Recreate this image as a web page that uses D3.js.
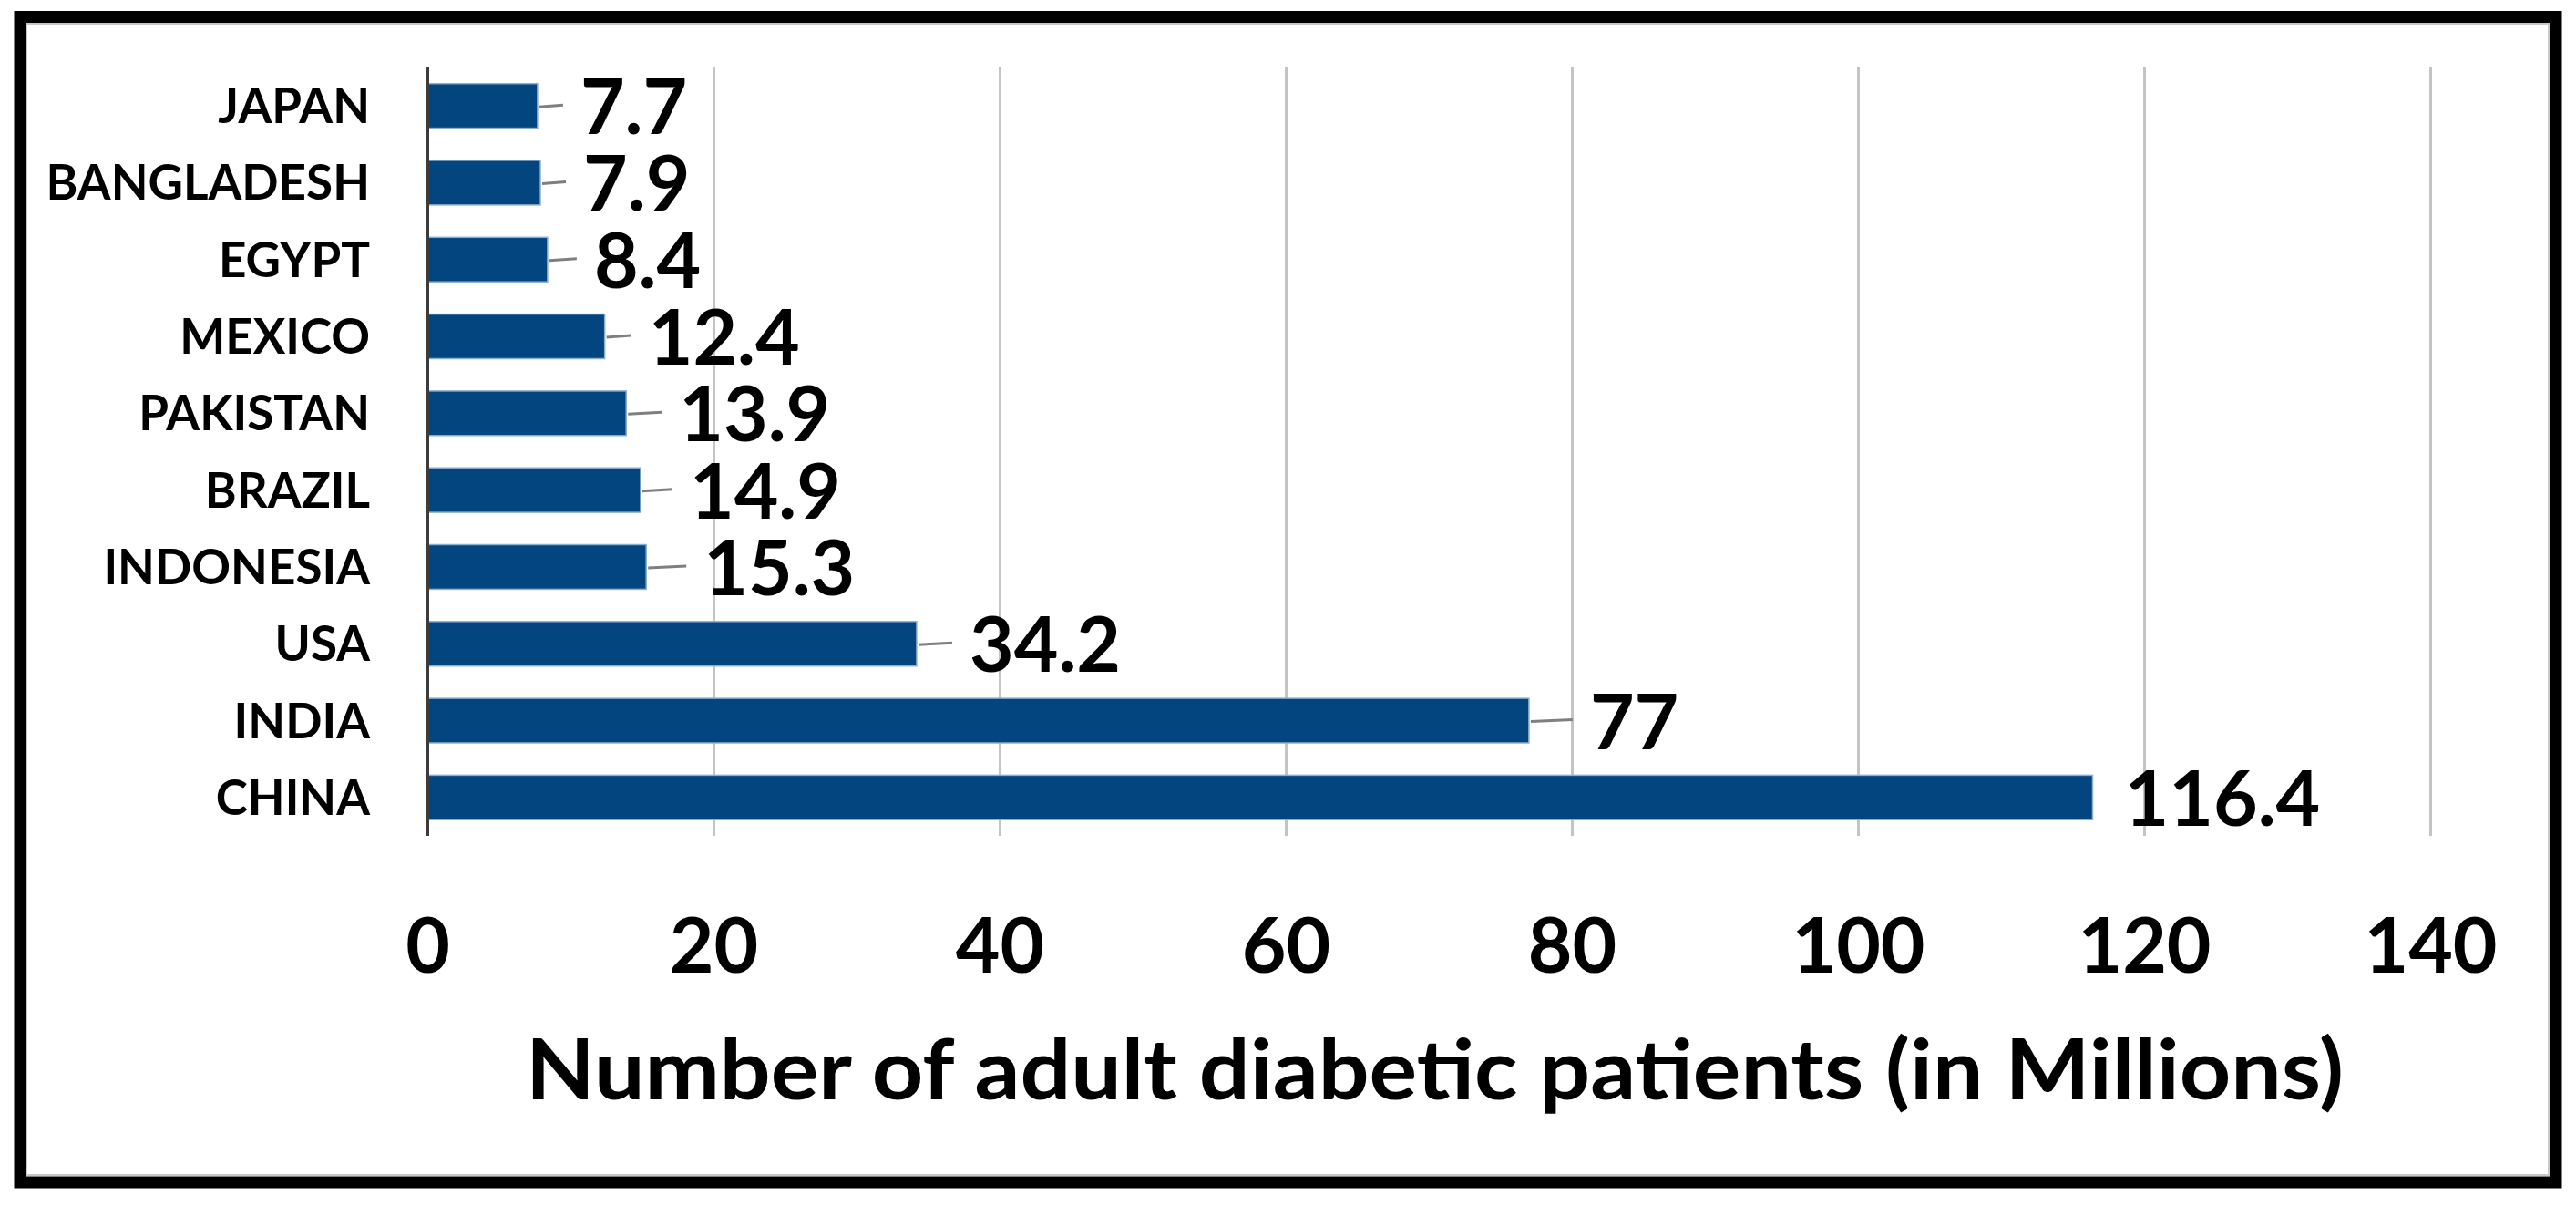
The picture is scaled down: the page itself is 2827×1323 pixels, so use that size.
<!DOCTYPE html>
<html>
<head>
<meta charset="utf-8">
<script src="https://cdn.jsdelivr.net/npm/d3@7"></script>
<style>
  html, body { margin: 0; padding: 0; background: #ffffff; }
  svg { display: block; }
  text { font-family: Lato, "Open Sans", "Liberation Sans", sans-serif; font-weight: 700; fill: #000; }
</style>
</head>
<body>
<svg id="chart" width="2827" height="1323"></svg>
<script>
// ---- data ----
const countries = ["JAPAN", "BANGLADESH", "EGYPT", "MEXICO", "PAKISTAN", "BRAZIL", "INDONESIA", "USA", "INDIA", "CHINA"];
const patients  = [7.7, 7.9, 8.4, 12.4, 13.9, 14.9, 15.3, 34.2, 77, 116.4];
const xTicks    = [0, 20, 40, 60, 80, 100, 120, 140];
const xTitle    = "Number of adult diabetic patients (in Millions)";

// ---- layout (label offsets from bar end, px) ----
const labelGap  = [47, 47, 51, 48, 58, 54, 63, 58, 67, 35];

const W = 2827, H = 1323;
const plot = { left: 469, right: 2667, top: 74, bottom: 917 };

const svg = d3.select("#chart");
svg.append("rect").attr("width", W).attr("height", H).attr("fill", "#fff");

const x = d3.scaleLinear().domain([0, 140]).range([plot.left, plot.right]);
const y = d3.scaleBand().domain(countries).range([plot.top, plot.bottom])
  .paddingInner(0.42).paddingOuter(0.21);

// gridlines
const grid = svg.append("g")
  .attr("transform", `translate(0,${plot.bottom})`)
  .call(d3.axisBottom(x).tickValues(xTicks.slice(1)).tickSize(-(plot.bottom - plot.top)).tickFormat(""));
grid.select(".domain").remove();
grid.selectAll(".tick line").attr("stroke", "#c4c4c4").attr("stroke-width", 3);

// bars
const rows = countries.map((c, i) => ({ c, v: patients[i], gap: labelGap[i] }));
svg.append("g").selectAll("rect").data(rows).join("rect")
  .attr("x", x(0))
  .attr("y", d => y(d.c))
  .attr("width", d => x(d.v) - x(0))
  .attr("height", y.bandwidth())
  .attr("fill", "#03467f")
  .attr("stroke", "#8eaed0")
  .attr("stroke-width", 1.5);

// vertical axis line
svg.append("line")
  .attr("x1", x(0)).attr("x2", x(0))
  .attr("y1", plot.top).attr("y2", plot.bottom)
  .attr("stroke", "#3c3c3c").attr("stroke-width", 4);

// category labels
const yAxis = svg.append("g")
  .attr("transform", `translate(406,0)`)
  .call(d3.axisLeft(y).tickSize(0).tickPadding(0));
yAxis.select(".domain").remove();
yAxis.selectAll(".tick text")
  .attr("x", 0).attr("dy", null).attr("y", 19)
  .attr("text-anchor", "end")
  .style("font-size", "53px")
  .style("font-family", "Lato, 'Open Sans', sans-serif")
  .style("font-weight", 700)
  .attr("fill", "#000");

// leader lines
svg.append("g").selectAll("line").data(rows.filter(d => d.gap > 40)).join("line")
  .attr("x1", d => x(d.v) + 2)
  .attr("x2", d => x(d.v) + d.gap - 19)
  .attr("y1", d => y(d.c) + y.bandwidth() / 2 + 1)
  .attr("y2", d => y(d.c) + y.bandwidth() / 2 - 1)
  .attr("stroke", "#7f7f7f").attr("stroke-width", 3);

// value labels
svg.append("g").selectAll("text").data(rows).join("text")
  .attr("x", d => x(d.v) + d.gap)
  .attr("y", d => y(d.c) + y.bandwidth() / 2 + 31)
  .style("font-size", "84px")
  .text(d => d.v);

// x tick labels
const xAxis = svg.append("g")
  .attr("transform", `translate(0,1067)`)
  .call(d3.axisBottom(x).tickValues(xTicks).tickSize(0).tickPadding(0));
xAxis.select(".domain").remove();
xAxis.selectAll(".tick text")
  .attr("y", 0).attr("dy", null)
  .style("font-size", "84px")
  .style("font-family", "Lato, 'Open Sans', sans-serif")
  .style("font-weight", 700)
  .attr("fill", "#000");

// x title
svg.append("text")
  .attr("x", 577).attr("y", 1206)
  .attr("textLength", 1995)
  .attr("lengthAdjust", "spacingAndGlyphs")
  .style("font-size", "92px")
  .text(xTitle);

// frame
svg.append("rect")
  .attr("x", 29).attr("y", 26).attr("width", 2797 - 29).attr("height", 1289 - 26)
  .attr("fill", "none").attr("stroke", "#c8c8c8").attr("stroke-width", 2);
svg.append("rect")
  .attr("x", 22).attr("y", 18.5).attr("width", 2805 - 22).attr("height", 1297 - 18.5)
  .attr("fill", "none").attr("stroke", "#000").attr("stroke-width", 13);
</script>
</body>
</html>
